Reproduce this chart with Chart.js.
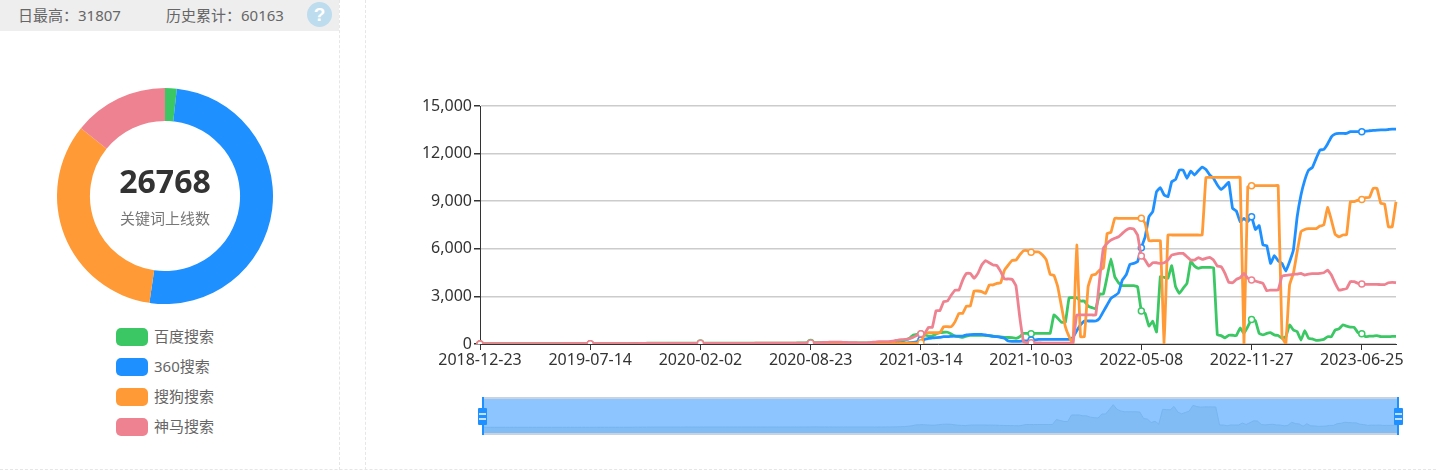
<!DOCTYPE html>
<html>
<head>
<meta charset="utf-8">
<script src="https://cdn.jsdelivr.net/npm/chart.js@4"></script>
<style>
  html, body { margin: 0; padding: 0; background: #fff; overflow: hidden; }
  body { width: 1436px; height: 470px; position: relative; font-family: "Noto Sans", "Noto Sans CJK SC", sans-serif; }
  .abs { position: absolute; }
  #top { left: 0; top: 0; width: 339px; height: 31px; background: #eee; }
  .stat { top: 5px; font-size: 15px; line-height: 20px; color: #666; white-space: nowrap; }
  #help { left: 307px; top: 2px; width: 25px; height: 25px; border-radius: 50%; background: #bddcee; color: #fff; font: bold 19px/25px "Liberation Sans"; text-align: center; }
  #sep1 { left: 339px; top: 0; height: 470px; border-left: 1px dashed #e6e6e6; }
  #sep2 { left: 365px; top: 0; height: 470px; border-left: 1px dashed #e6e6e6; }
  #sep3 { left: 0; top: 469px; width: 1436px; border-top: 1px dashed #e6e6e6; }
  #pie { left: 57px; top: 88px; width: 216px; height: 216px; }
  #total { left: 57px; top: 161px; width: 216px; text-align: center; font-size: 32px; line-height: 40px; font-weight: bold; color: #333; }
  #totalName { left: 57px; top: 208px; width: 216px; text-align: center; font-size: 15px; line-height: 20px; color: #777; }
  .key { left: 116px; width: 32px; height: 18px; border-radius: 5px; }
  .keyName { left: 154px; font-size: 15px; line-height: 20px; color: #666; white-space: nowrap; }
  #line { left: 366px; top: 0; width: 1070px; height: 390px; }
  #band { left: 483px; top: 397px; width: 915px; height: 38px; background: #8cc5ff; box-sizing: border-box; border-top: 2px solid #c9d3e0; border-bottom: 2px solid #c9d3e0; }
  #mini { left: 483px; top: 399px; width: 915px; height: 34px; }
  .bar { top: 397px; width: 2px; height: 38px; background: #1e90ff; }
  .grip { top: 408px; width: 9px; height: 17px; background: #1e90ff; border-radius: 1px; }
  .grip i { position: absolute; left: 1px; width: 7px; height: 2px; background: #c4e0fb; }
</style>
</head>
<body>
<div class="abs" id="top"></div>
<div class="abs stat" style="left:18px">日最高：31807</div>
<div class="abs stat" style="left:166px">历史累计：60163</div>
<div class="abs" id="help">?</div>
<div class="abs" id="sep1"></div>
<div class="abs" id="sep2"></div>
<div class="abs" id="sep3"></div>

<div class="abs" id="pie"><canvas id="pieChart"></canvas></div>
<div class="abs" id="total">26768</div>
<div class="abs" id="totalName">关键词上线数</div>
<div id="keys"></div>

<div class="abs" id="line"><canvas id="lineChart"></canvas></div>
<div class="abs" id="band"></div>
<div class="abs" id="mini"><canvas id="miniChart"></canvas></div>
<div class="abs bar" style="left:482px"></div>
<div class="abs grip" style="left:478px"><i style="top:5px"></i><i style="top:10px"></i></div>
<div class="abs bar" style="left:1397px"></div>
<div class="abs grip" style="left:1394px"><i style="top:5px"></i><i style="top:10px"></i></div>

<script>
var engines = ["百度搜索", "360搜索", "搜狗搜索", "神马搜索"];
var engineColors = ["#3bc864", "#1e90ff", "#ff9a36", "#ee8290"];
var online = [468, 13533, 8967, 3800];

// every 29th week gets a label, the data has a couple of skipped weeks
var tickLabels = ["2018-12-23", "2019-07-14", "2020-02-02", "2020-08-23", "2021-03-14",
  "2021-10-03", "2022-05-08", "2022-11-27", "2023-06-25"];
var tickStep = 29;
var yTicks = [0, 3000, 6000, 9000, 12000, 15000];

var baidu = [
  0,0,0,0,0,0,0,0,0,0,
  0,0,0,0,0,0,0,0,0,0,
  0,0,0,0,0,0,0,0,0,0,
  10,10,10,10,10,10,10,10,10,10,
  30,40,40,40,50,50,50,50,50,50,
  50,50,50,60,60,60,60,60,60,60,
  60,60,60,60,60,60,60,60,60,60,
  60,60,60,60,60,60,60,60,60,60,
  60,60,60,60,70,70,80,100,90,80,
  80,80,70,70,70,70,70,70,70,70,
  70,70,70,70,70,80,80,90,100,110,
  150,180,250,360,570,610,630,570,500,500,
  630,710,740,740,630,500,460,420,500,550,
  550,550,550,530,520,500,460,440,420,410,
  400,360,460,670,670,650,670,670,670,670,
  670,1830,1620,1370,1370,2920,2920,2920,2710,2710,
  2390,2290,2210,3150,3150,4240,5360,4240,3860,3680,
  3680,3680,3680,3610,2080,1930,1130,1430,760,4240,
  4200,4140,4940,3610,3190,3510,3820,5190,4910,4770,
  4830,4830,4830,4810,570,530,380,550,550,530,
  1010,670,1090,1550,1470,670,570,670,710,570,
  530,360,460,1200,880,780,250,840,360,320,
  230,250,290,460,460,880,950,1200,1130,1070,
  1050,710,650,460,500,500,530,460,460,460,
  480,480
];
var so360 = [
  0,0,0,0,0,0,0,0,0,0,
  0,0,0,0,0,0,0,0,0,0,
  0,0,0,0,0,0,0,0,0,0,
  0,0,0,0,0,0,0,0,0,0,
  0,0,0,0,0,0,0,0,0,0,
  0,0,0,0,0,0,0,0,0,0,
  0,0,0,0,0,0,0,0,0,0,
  0,0,0,0,0,0,0,0,0,0,
  0,0,0,0,0,0,0,10,10,10,
  10,10,10,10,10,10,10,10,10,10,
  20,20,20,20,20,30,30,30,30,40,
  40,50,60,80,100,150,250,290,360,380,
  400,420,460,460,480,500,500,500,570,590,
  610,610,610,570,530,480,460,420,360,190,
  170,170,170,190,190,250,250,290,290,290,
  290,290,290,290,290,290,420,840,1200,1450,
  1450,1450,1450,1620,2040,2460,2880,3040,3230,4030,
  4350,5020,5080,5190,6070,6760,8020,8340,9600,9850,
  9390,9280,10230,10370,10960,10960,10440,10900,10650,10920,
  11150,11000,10650,10440,10020,9740,9950,10190,8550,8380,
  7710,7920,7710,8020,7220,7460,6240,6200,5080,5570,
  5250,5080,4600,5190,5920,8020,9390,10330,10960,11130,
  11700,12220,12260,12600,13060,13230,13270,13270,13270,13380,
  13380,13380,13380,13420,13440,13460,13480,13500,13500,13520,
  13540,13540
];
var sogou = [
  0,0,0,0,0,0,0,0,0,0,
  0,0,0,0,0,0,0,0,0,0,
  0,0,0,0,0,0,0,0,0,0,
  0,0,0,0,0,0,0,0,0,0,
  0,0,0,0,0,0,0,0,0,0,
  0,0,0,0,0,0,0,0,0,0,
  0,0,0,0,0,0,0,0,0,0,
  0,0,0,0,0,0,0,0,0,0,
  0,0,0,0,0,0,0,10,10,10,
  10,10,10,10,10,10,10,10,10,10,
  10,10,10,10,20,20,20,20,30,30,
  30,40,40,50,50,60,80,630,710,710,
  710,710,1090,1090,1090,1410,1930,1930,2390,2390,
  3340,3340,3300,3190,3720,3720,3820,3860,4660,4980,
  5270,5290,5610,5880,5880,5780,5800,5800,5610,5290,
  4390,4330,3610,2350,1090,460,40,6240,460,460,
  3610,4350,4390,4660,4770,6970,7040,7920,7920,7920,
  7920,7920,7920,7920,7920,7600,6510,6510,6510,6510,
  40,6870,6870,6870,6870,6870,6870,6870,6870,6870,
  6870,10500,10500,10500,10500,10500,10500,10500,10500,10500,
  10500,40,9910,9980,9980,9980,9980,9980,9980,9980,
  9980,460,0,3720,4450,5820,7080,7220,7270,7270,
  7270,7430,7500,8610,7810,6910,6760,6870,6890,8970,
  8970,9070,9110,9220,9240,9810,9810,8860,8820,7390,
  7390,8970
];
var shenma = [
  0,0,0,0,0,0,0,0,0,0,
  10,10,10,10,10,10,10,10,10,10,
  10,10,15,15,15,15,15,15,20,20,
  20,20,20,20,20,20,25,25,25,25,
  25,25,30,30,30,30,30,30,30,30,
  30,35,35,35,35,35,35,35,40,40,
  40,40,40,40,40,40,45,45,45,45,
  45,45,45,50,50,50,50,50,50,50,
  50,55,55,55,55,55,55,60,70,80,
  90,100,110,120,120,110,100,90,80,80,
  70,70,80,100,120,150,150,150,170,200,
  250,270,290,340,420,550,650,670,1050,1050,
  2100,2100,2670,2710,3090,3400,3400,4030,4450,4450,
  4140,4450,4980,5250,5120,4980,4940,4560,4100,4100,
  4070,3680,1720,150,80,80,70,70,60,60,
  60,60,50,50,50,50,80,1830,1830,1830,
  1830,1830,1830,4030,6030,6340,6550,6660,6760,6970,
  7180,7290,7250,6870,5540,5290,4910,5120,5120,5080,
  5120,5290,5610,5670,5710,5710,5500,5290,5290,5440,
  5330,5400,5460,5290,4910,4870,4450,3890,3860,4070,
  4180,4450,4140,4030,3970,3890,3820,3360,3400,3400,
  3400,4280,4330,4350,4390,4410,4450,4350,4410,4430,
  4430,4450,4490,4660,4350,3820,3400,3440,3490,3930,
  3930,3820,3780,3760,3760,3760,3760,3740,3740,3860,
  3890,3860
];

// weekly dates, restarting at each labelled date
var weeks = [];
tickLabels.forEach(function (label) {
  var d = new Date(label + "T00:00:00Z");
  for (var i = 0; i < tickStep && weeks.length < baidu.length; i++) {
    weeks.push(new Date(d.getTime() + i * 7 * 86400000).toISOString().slice(0, 10));
  }
});

// legend on the left
var keys = document.getElementById("keys");
engines.forEach(function (name, i) {
  var y = 328 + i * 30;
  keys.innerHTML += '<div class="abs key" style="top:' + y + 'px;background:' + engineColors[i] + '"></div>' +
    '<div class="abs keyName" style="top:' + (y - 2) + 'px">' + name + '</div>';
});

new Chart(document.getElementById("pieChart"), {
  type: "doughnut",
  data: {
    labels: engines,
    datasets: [{ data: online, backgroundColor: engineColors, borderWidth: 0 }],
  },
  options: {
    responsive: true,
    maintainAspectRatio: false,
    animation: false,
    cutout: "69.5%",
    plugins: { legend: { display: false }, tooltip: { enabled: false } },
  },
});

function lineSet(i, values) {
  return {
    label: engines[i],
    data: values,
    borderColor: engineColors[i],
    backgroundColor: "#fff",
    borderWidth: 2.8,
    borderJoinStyle: "round",
    tension: 0.1,
    order: 3 - i, // later engines sit on top
    pointRadius: function (c) { return c.dataIndex % tickStep === 0 ? 3 : 0; },
    pointBorderColor: engineColors[i],
    pointBackgroundColor: "#fff",
    pointBorderWidth: 1.5,
  };
}

Chart.defaults.font.family = '"Noto Sans", sans-serif';

new Chart(document.getElementById("lineChart"), {
  type: "line",
  data: {
    labels: weeks,
    datasets: [lineSet(0, baidu), lineSet(1, so360), lineSet(2, sogou), lineSet(3, shenma)],
  },
  options: {
    responsive: true,
    maintainAspectRatio: false,
    animation: false,
    layout: { padding: { top: 106, right: 40, left: 0, bottom: 0 } },
    plugins: { legend: { display: false }, tooltip: { enabled: false } },
    scales: {
      x: {
        offset: false,
        afterBuildTicks: function (scale) {
          scale.ticks = scale.ticks.filter(function (t) { return t.value % tickStep === 0; });
        },
        afterFit: function (scale) { scale.height = 46; },
        border: { color: "#333" },
        grid: { drawOnChartArea: false, tickColor: "#333", tickLength: 6 },
        ticks: { autoSkip: false, maxRotation: 0, color: "#333", padding: 1, font: { size: 16 } },
      },
      y: {
        min: 0,
        max: 15000,
        afterBuildTicks: function (scale) {
          scale.ticks = yTicks.map(function (v) { return { value: v }; });
        },
        afterFit: function (scale) { scale.width = 114; },
        border: { color: "#333" },
        grid: { color: "#ccc", lineWidth: 1.5, tickColor: "#333", tickLength: 6 },
        ticks: {
          color: "#333",
          padding: 2,
          font: { size: 16 },
          callback: function (v) { return v.toLocaleString("en-US"); },
        },
      },
    },
  },
});

// the zoom strip shows the first series as a shadow
new Chart(document.getElementById("miniChart"), {
  type: "line",
  data: {
    labels: weeks,
    datasets: [{
      data: baidu,
      borderColor: "#78b4ee",
      borderWidth: 1,
      backgroundColor: "#81bcf5",
      fill: "start",
      pointRadius: 0,
      tension: 0,
    }],
  },
  options: {
    responsive: true,
    maintainAspectRatio: false,
    animation: false,
    plugins: { legend: { display: false }, tooltip: { enabled: false } },
    scales: {
      x: { display: false, offset: false },
      y: { display: false, min: -1340, max: 6700 },
    },
  },
});
</script>
</body>
</html>
